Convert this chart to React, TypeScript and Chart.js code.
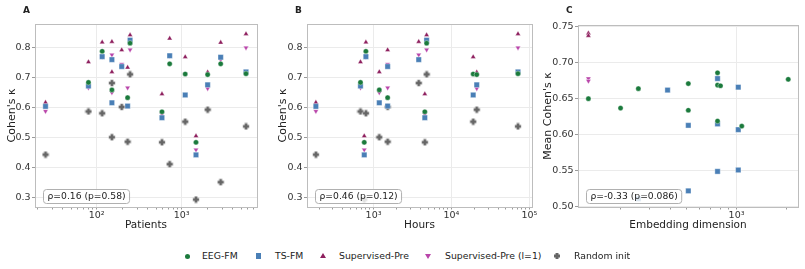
import React, { useEffect, useRef } from 'react';
import { Chart, registerables } from 'chart.js';

Chart.register(...registerables);
Chart.defaults.font.family = "'DejaVu Sans', sans-serif";

// Per-benchmark metadata and Cohen's kappa for each model family
const benchmarkPatients = [25, 80, 116, 151, 151, 197, 231, 247, 586, 722, 1100, 1473, 2020, 2875, 5710];
const benchmarkHours = [182, 680, 798, 3800, 1185, 1517, 1517, 4800, 4550, null, 19000, 760, 21100, null, 71400];
const eegFmKappa = [null, 0.684, 0.788, null, 0.659, null, 0.633, 0.815, 0.586, 0.746, 0.712, 0.484, 0.71, 0.746, 0.713];
const tsFmKappa = [0.604, 0.672, 0.77, 0.76, 0.616, 0.737, 0.605, 0.825, 0.566, 0.773, 0.642, 0.442, 0.676, 0.768, 0.719];
const supPreKappa = [0.617, 0.752, 0.818, 0.82, 0.719, 0.792, 0.734, 0.842, 0.645, 0.831, 0.769, 0.505, 0.718, 0.817, 0.846];
const supPreL1Kappa = [0.588, 0.666, 0.77, 0.776, 0.65, 0.745, 0.666, 0.793, 0.578, 0.773, 0.712, 0.459, 0.664, 0.76, 0.8];
const randomInitKappa = [0.443, 0.587, 0.581, 0.682, 0.501, 0.602, 0.486, 0.711, 0.484, 0.411, 0.553, 0.293, 0.593, 0.351, 0.537];

// Mean kappa across benchmarks versus embedding dimension
const eegFmDims = [128, 200, 256, 512, 512, 768, 768, 768, 800, 1075, 2048];
const eegFmMeanKappa = [0.65, 0.637, 0.664, 0.671, 0.634, 0.686, 0.669, 0.619, 0.668, 0.612, 0.677];
const tsFmDims = [256, 384, 512, 512, 768, 768, 768, 1024, 1024, 1024];
const tsFmMeanKappa = [0.511, 0.662, 0.613, 0.522, 0.678, 0.615, 0.549, 0.666, 0.607, 0.551];
const supPreDims = [128, 128];
const supPreMeanKappa = [0.741, 0.7375];
const supPreL1Dims = [128, 128];
const supPreL1MeanKappa = [0.678, 0.6746];

const kappaTicks = [0.3, 0.4, 0.5, 0.6, 0.7, 0.8];
const meanKappaTicks = [0.5, 0.55, 0.6, 0.65, 0.7, 0.75];
const statLabels = ['ρ=0.16 (p=0.58)', 'ρ=0.46 (p=0.12)', 'ρ=-0.33 (p=0.086)'];
const panelLetters = ['A', 'B', 'C'];
const modelNames = ['EEG-FM', 'TS-FM', 'Supervised-Pre', 'Supervised-Pre (l=1)', 'Random init'];

const COLORS = {
  eeg: '#1b7a3c',
  ts: '#4a7fb6',
  sup: '#8e1f5e',
  supL1: '#b945aa',
  rand: '#666666',
};

const SUPERSCRIPT: Record<string, string> = { '0': '⁰', '1': '¹', '2': '²', '3': '³', '4': '⁴', '5': '⁵', '6': '⁶' };

function powerLabel(v: number): string {
  const e = Math.log10(v);
  if (Math.abs(e - Math.round(e)) > 1e-9) return '';
  return '10' + String(Math.round(e)).split('').map((d) => SUPERSCRIPT[d] || d).join('');
}

function isPowerOfTen(v: number): boolean {
  const e = Math.log10(v);
  return Math.abs(e - Math.round(e)) < 1e-9;
}

function logTicks(min: number, max: number) {
  const out: { value: number; major: boolean }[] = [];
  for (let d = Math.floor(Math.log10(min)); d <= Math.ceil(Math.log10(max)); d++) {
    for (let m = 1; m <= 9; m++) {
      const v = m * Math.pow(10, d);
      if (v >= min && v <= max) out.push({ value: v, major: m === 1 });
    }
  }
  return out;
}

function makePlusMarker(color: string): HTMLCanvasElement {
  const c = document.createElement('canvas');
  const s = 8;
  c.width = s;
  c.height = s;
  const g = c.getContext('2d')!;
  const cx = s / 2, cy = s / 2, l = 3.2, a = 1.5;
  const pts = [
    [cx - a, cy - l], [cx + a, cy - l], [cx + a, cy - a], [cx + l, cy - a], [cx + l, cy + a], [cx + a, cy + a],
    [cx + a, cy + l], [cx - a, cy + l], [cx - a, cy + a], [cx - l, cy + a], [cx - l, cy - a], [cx - a, cy - a],
  ];
  g.beginPath();
  pts.forEach(([x, y], i) => (i === 0 ? g.moveTo(x, y) : g.lineTo(x, y)));
  g.closePath();
  g.fillStyle = color;
  g.fill();
  g.strokeStyle = 'rgba(255,255,255,0.6)';
  g.lineWidth = 0.4;
  g.stroke();
  return c;
}

function pairs(xs: (number | null)[], ys: (number | null)[]) {
  const out: { x: number; y: number }[] = [];
  xs.forEach((x, i) => {
    const y = ys[i];
    if (x != null && y != null) out.push({ x, y });
  });
  return out;
}

const framePlugin = {
  id: 'frame',
  beforeDatasetsDraw(chart: any) {
    const { ctx, chartArea: a } = chart;
    ctx.save();
    ctx.strokeStyle = '#bdbdbd';
    ctx.lineWidth = 1;
    ctx.strokeRect(Math.round(a.left) + 0.5, Math.round(a.top) + 0.5, Math.round(a.right - a.left), Math.round(a.bottom - a.top));
    ctx.restore();
  },
};

const annotatePlugin = {
  id: 'annotate',
  afterDatasetsDraw(chart: any, _args: any, opts: any) {
    const { ctx, chartArea: a } = chart;
    ctx.save();
    // correlation box
    ctx.font = "9.2px 'DejaVu Sans', sans-serif";
    const tw = ctx.measureText(opts.stat).width;
    const bx = a.left + 8, bh = 14, bw = tw + 8, by = a.bottom - 4 - bh;
    ctx.beginPath();
    ctx.roundRect(bx + 0.5, by + 0.5, bw, bh, 3);
    ctx.fillStyle = 'rgba(255,255,255,0.8)';
    ctx.fill();
    ctx.strokeStyle = '#b0b0b0';
    ctx.lineWidth = 1;
    ctx.stroke();
    ctx.fillStyle = '#222';
    ctx.textBaseline = 'middle';
    ctx.textAlign = 'left';
    ctx.fillText(opts.stat, bx + 4.5, by + bh / 2 + 1);
    // panel letter
    ctx.font = "bold 9px 'DejaVu Sans', sans-serif";
    ctx.fillText(opts.letter, a.left - 12, 11);
    ctx.restore();
  },
};

function scatterSet(label: string, data: any[], color: string, style: any, radius: number, rotation = 0) {
  return {
    label,
    data,
    backgroundColor: color,
    borderColor: 'rgba(255,255,255,0.75)',
    borderWidth: 0.5,
    pointStyle: style,
    pointRadius: radius,
    pointRotation: rotation,
  };
}

interface PanelSpec {
  datasets: any[];
  xMin: number;
  xMax: number;
  yMin: number;
  yMax: number;
  yTicks: number[];
  yDecimals: number;
  xTitle: string;
  yTitle: string;
  yWidth: number;
  yTitlePad: number;
  top: number;
  right: number;
  stat: string;
  letter: string;
}

function buildConfig(p: PanelSpec): any {
  return {
    type: 'scatter',
    data: { datasets: p.datasets },
    plugins: [framePlugin, annotatePlugin],
    options: {
      responsive: false,
      animation: false,
      layout: { padding: { top: p.top, right: p.right, left: 0, bottom: 0 } },
      plugins: {
        legend: { display: false },
        tooltip: { enabled: false },
        annotate: { stat: p.stat, letter: p.letter },
      },
      scales: {
        x: {
          type: 'logarithmic',
          min: p.xMin,
          max: p.xMax,
          afterBuildTicks: (s: any) => {
            s.ticks = logTicks(p.xMin, p.xMax);
          },
          afterFit: (s: any) => {
            s.height = 33;
          },
          border: { display: false },
          grid: {
            color: (c: any) => (c.tick && isPowerOfTen(c.tick.value) ? '#ebebeb' : 'rgba(0,0,0,0)'),
            tickColor: '#9a9a9a',
            tickLength: 2.5,
            lineWidth: 1,
          },
          ticks: {
            autoSkip: false,
            maxRotation: 0,
            padding: 0,
            color: '#333',
            font: { size: 9.5 },
            callback: (v: any) => powerLabel(Number(v)),
          },
          title: {
            display: true,
            text: p.xTitle,
            color: '#222',
            font: { size: 10.5 },
            padding: { top: 0, bottom: 8 },
          },
        },
        y: {
          min: p.yMin,
          max: p.yMax,
          afterBuildTicks: (s: any) => {
            s.ticks = p.yTicks.map((v) => ({ value: v }));
          },
          afterFit: (s: any) => {
            s.width = p.yWidth;
          },
          border: { display: false },
          grid: { color: '#ebebeb', tickColor: '#9a9a9a', tickLength: 3, lineWidth: 1 },
          ticks: {
            padding: 1.5,
            color: '#333',
            font: { size: 9.5 },
            callback: (v: any) => Number(v).toFixed(p.yDecimals),
          },
          title: {
            display: true,
            text: p.yTitle,
            color: '#222',
            font: { size: 11 },
            padding: { top: p.yTitlePad, bottom: 0 },
          },
        },
      },
    },
  };
}

function kappaSets(xs: (number | null)[], plus: HTMLCanvasElement) {
  return [
    scatterSet(modelNames[0], pairs(xs, eegFmKappa), COLORS.eeg, 'circle', 2.6),
    scatterSet(modelNames[1], pairs(xs, tsFmKappa), COLORS.ts, 'rect', 3.8),
    scatterSet(modelNames[2], pairs(xs, supPreKappa), COLORS.sup, 'triangle', 3),
    scatterSet(modelNames[3], pairs(xs, supPreL1Kappa), COLORS.supL1, 'triangle', 3, 180),
    scatterSet(modelNames[4], pairs(xs, randomInitKappa), COLORS.rand, plus, 3.5),
  ];
}

const PANELS = [
  { left: 0, width: 265 },
  { left: 265, width: 275 },
  { left: 530, width: 275 },
];

function LegendMarker({ kind, color }: { kind: string; color: string }) {
  const base: React.CSSProperties = { position: 'absolute', background: color };
  if (kind === 'circle') return <div style={{ ...base, left: -2.5, top: -2.5, width: 5, height: 5, borderRadius: '50%' }} />;
  if (kind === 'square') return <div style={{ ...base, left: -2.6, top: -2.6, width: 5.2, height: 5.2 }} />;
  if (kind === 'up')
    return <div style={{ ...base, left: -3, top: -3, width: 6, height: 5, clipPath: 'polygon(50% 0, 100% 100%, 0 100%)' }} />;
  if (kind === 'down')
    return <div style={{ ...base, left: -3, top: -2, width: 6, height: 5, clipPath: 'polygon(0 0, 100% 0, 50% 100%)' }} />;
  return (
    <div
      style={{
        ...base,
        left: -3.2,
        top: -3.2,
        width: 6.4,
        height: 6.4,
        clipPath: 'polygon(27% 0, 73% 0, 73% 27%, 100% 27%, 100% 73%, 73% 73%, 73% 100%, 27% 100%, 27% 73%, 0 73%, 0 27%, 27% 27%)',
      }}
    />
  );
}

const legendItems = [
  { kind: 'circle', color: COLORS.eeg, x: 187, tx: 202 },
  { kind: 'square', color: COLORS.ts, x: 258.5, tx: 275 },
  { kind: 'up', color: COLORS.sup, x: 323, tx: 339 },
  { kind: 'down', color: COLORS.supL1, x: 428, tx: 445 },
  { kind: 'plus', color: COLORS.rand, x: 557, tx: 574 },
];

export default function App() {
  const refA = useRef<HTMLCanvasElement>(null);
  const refB = useRef<HTMLCanvasElement>(null);
  const refC = useRef<HTMLCanvasElement>(null);

  useEffect(() => {
    const plus = makePlusMarker(COLORS.rand);
    const specs: PanelSpec[] = [
      {
        datasets: kappaSets(benchmarkPatients, plus),
        xMin: 18.8, xMax: 7690, yMin: 0.268, yMax: 0.879, yTicks: kappaTicks, yDecimals: 1,
        xTitle: 'Patients', yTitle: "Cohen's κ", yWidth: 35, yTitlePad: 6, top: 24, right: 8,
        stat: statLabels[0], letter: panelLetters[0],
      },
      {
        datasets: kappaSets(benchmarkHours, plus),
        xMin: 140, xMax: 108000, yMin: 0.268, yMax: 0.879, yTicks: kappaTicks, yDecimals: 1,
        xTitle: 'Hours', yTitle: "Cohen's κ", yWidth: 42, yTitlePad: 12, top: 24, right: 8,
        stat: statLabels[1], letter: panelLetters[1],
      },
      {
        datasets: [
          scatterSet(modelNames[0], pairs(eegFmDims, eegFmMeanKappa), COLORS.eeg, 'circle', 2.6),
          scatterSet(modelNames[1], pairs(tsFmDims, tsFmMeanKappa), COLORS.ts, 'rect', 3.8),
          scatterSet(modelNames[2], pairs(supPreDims, supPreMeanKappa), COLORS.sup, 'triangle', 3),
          scatterSet(modelNames[3], pairs(supPreL1Dims, supPreL1MeanKappa), COLORS.supL1, 'triangle', 3, 180),
        ],
        xMin: 110.8, xMax: 2345, yMin: 0.4996, yMax: 0.7524, yTicks: meanKappaTicks, yDecimals: 2,
        xTitle: 'Embedding dimension', yTitle: "Mean Cohen's κ", yWidth: 48, yTitlePad: 12, top: 25, right: 7,
        stat: statLabels[2], letter: panelLetters[2],
      },
    ];
    const canvases = [refA.current, refB.current, refC.current];
    const charts = canvases.map((cv, i) => new Chart(cv as HTMLCanvasElement, buildConfig(specs[i])));
    return () => charts.forEach((c) => c.destroy());
  }, []);

  const refs = [refA, refB, refC];
  return (
    <div style={{ position: 'absolute', left: 0, top: 0, width: 805, height: 269, background: '#fff', overflow: 'hidden' }}>
      {PANELS.map((p, i) => (
        <canvas
          key={i}
          ref={refs[i]}
          width={p.width}
          height={240}
          style={{ position: 'absolute', left: p.left, top: 0, width: p.width, height: 240 }}
        />
      ))}
      {legendItems.map((it, i) => (
        <React.Fragment key={i}>
          <div style={{ position: 'absolute', left: it.x, top: 256 }}>
            <LegendMarker kind={it.kind} color={it.color} />
          </div>
          <div
            style={{
              position: 'absolute',
              left: it.tx,
              top: 250,
              fontFamily: "'DejaVu Sans', sans-serif",
              fontSize: 9.3,
              lineHeight: '12px',
              color: '#222',
              whiteSpace: 'nowrap',
            }}
          >
            {modelNames[i]}
          </div>
        </React.Fragment>
      ))}
    </div>
  );
}
